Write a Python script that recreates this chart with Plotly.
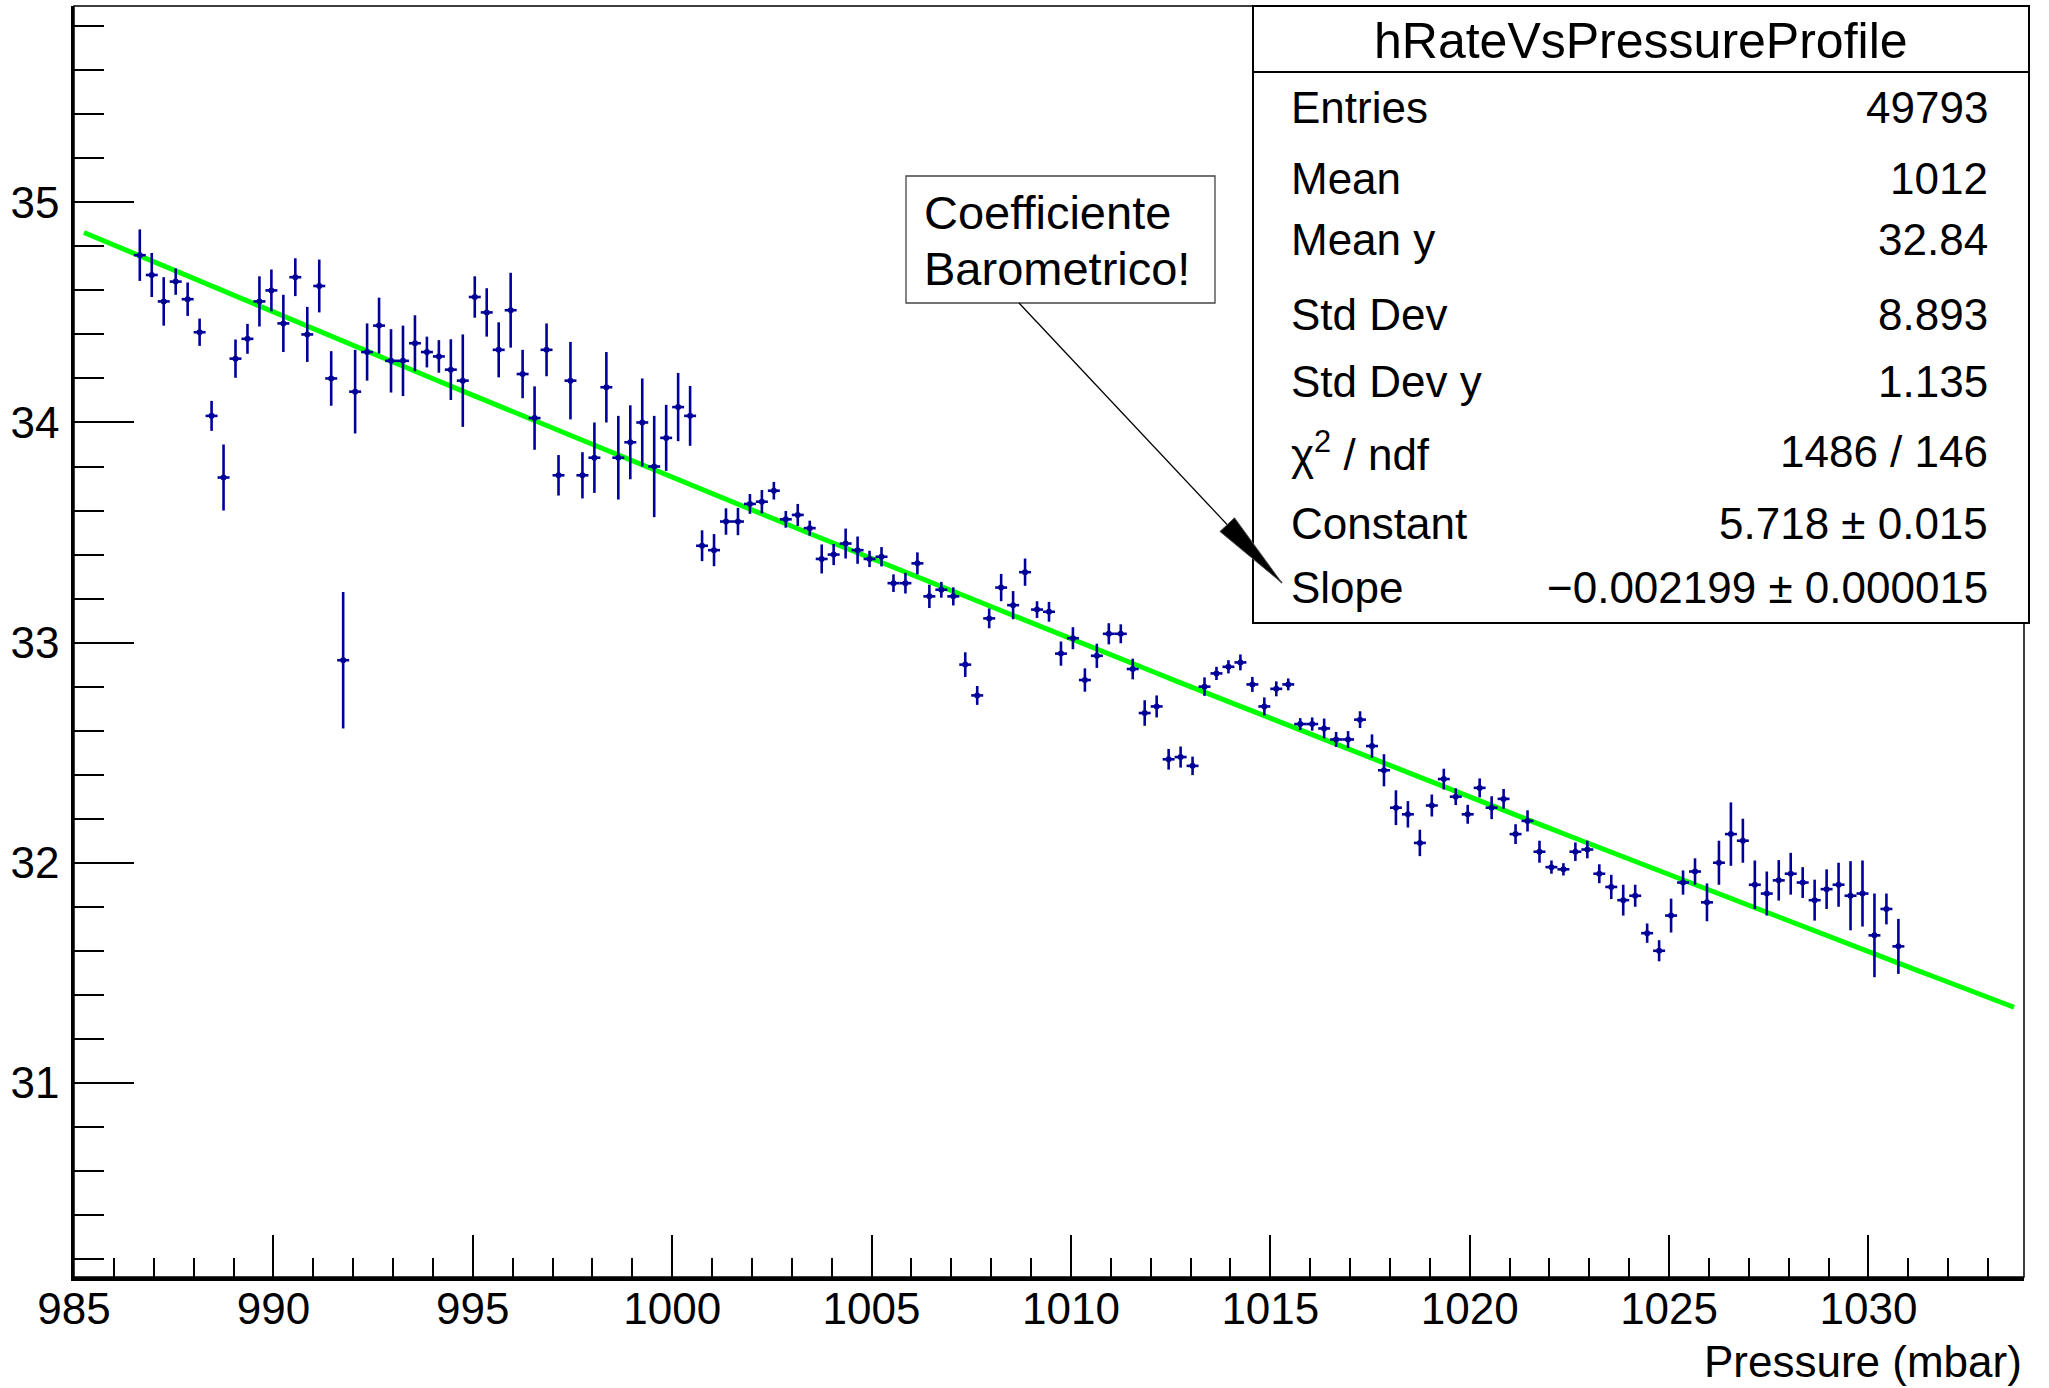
import numpy as np
import plotly.graph_objects as go

# ---------------- data ----------------
pressure = [
    986.65, 986.95, 987.25, 987.55, 987.85, 988.15, 988.45, 988.75, 989.05, 989.35,
    989.65, 989.95, 990.25, 990.55, 990.85, 991.15, 991.45, 991.75, 992.05, 992.35,
    992.65, 992.95, 993.25, 993.55, 993.85, 994.15, 994.45, 994.75, 995.05, 995.35,
    995.65, 995.95, 996.25, 996.55, 996.85, 997.15, 997.45, 997.75, 998.05, 998.35,
    998.65, 998.95, 999.25, 999.55, 999.85, 1000.15, 1000.45, 1000.75, 1001.05, 1001.35,
    1001.65, 1001.95, 1002.25, 1002.55, 1002.85, 1003.15, 1003.45, 1003.75, 1004.05, 1004.35,
    1004.65, 1004.95, 1005.25, 1005.55, 1005.85, 1006.15, 1006.45, 1006.75, 1007.05, 1007.35,
    1007.65, 1007.95, 1008.25, 1008.55, 1008.85, 1009.15, 1009.45, 1009.75, 1010.05, 1010.35,
    1010.65, 1010.95, 1011.25, 1011.55, 1011.85, 1012.15, 1012.45, 1012.75, 1013.05, 1013.35,
    1013.65, 1013.95, 1014.25, 1014.55, 1014.85, 1015.15, 1015.45, 1015.75, 1016.05, 1016.35,
    1016.65, 1016.95, 1017.25, 1017.55, 1017.85, 1018.15, 1018.45, 1018.75, 1019.05, 1019.35,
    1019.65, 1019.95, 1020.25, 1020.55, 1020.85, 1021.15, 1021.45, 1021.75, 1022.05, 1022.35,
    1022.65, 1022.95, 1023.25, 1023.55, 1023.85, 1024.15, 1024.45, 1024.75, 1025.05, 1025.35,
    1025.65, 1025.95, 1026.25, 1026.55, 1026.85, 1027.15, 1027.45, 1027.75, 1028.05, 1028.35,
    1028.65, 1028.95, 1029.25, 1029.55, 1029.85, 1030.15, 1030.45, 1030.75,
]

rate = [
    34.76, 34.67, 34.55, 34.64, 34.56, 34.41, 34.03, 33.75, 34.29, 34.38,
    34.55, 34.60, 34.45, 34.66, 34.40, 34.62, 34.20, 32.92, 34.14, 34.32,
    34.44, 34.28, 34.28, 34.36, 34.32, 34.30, 34.24, 34.19, 34.57, 34.50,
    34.33, 34.51, 34.22, 34.02, 34.33, 33.76, 34.19, 33.76, 33.84, 34.16,
    33.84, 33.91, 34.00, 33.80, 33.93, 34.07, 34.03, 33.44, 33.42, 33.55,
    33.55, 33.63, 33.64, 33.69, 33.56, 33.58, 33.52, 33.38, 33.40, 33.45,
    33.42, 33.38, 33.39, 33.27, 33.27, 33.36, 33.21, 33.24, 33.21, 32.90,
    32.76, 33.11, 33.25, 33.17, 33.32, 33.15, 33.14, 32.95, 33.02, 32.83,
    32.94, 33.04, 33.04, 32.88, 32.68, 32.71, 32.47, 32.48, 32.44, 32.80,
    32.86, 32.89, 32.91, 32.81, 32.71, 32.79, 32.81, 32.63, 32.63, 32.61,
    32.56, 32.56, 32.65, 32.53, 32.42, 32.25, 32.22, 32.09, 32.26, 32.38,
    32.30, 32.22, 32.34, 32.25, 32.29, 32.13, 32.19, 32.05, 31.98, 31.97,
    32.05, 32.06, 31.95, 31.89, 31.83, 31.85, 31.68, 31.60, 31.76, 31.91,
    31.96, 31.82, 32.00, 32.13, 32.10, 31.90, 31.86, 31.92, 31.95, 31.91,
    31.83, 31.88, 31.90, 31.85, 31.86, 31.67, 31.79, 31.62,
]

rate_err = [
    0.117, 0.100, 0.110, 0.060, 0.076, 0.062, 0.068, 0.150, 0.087, 0.068,
    0.114, 0.095, 0.130, 0.086, 0.125, 0.120, 0.124, 0.310, 0.190, 0.130,
    0.127, 0.144, 0.160, 0.127, 0.070, 0.074, 0.138, 0.210, 0.094, 0.110,
    0.125, 0.170, 0.110, 0.144, 0.120, 0.092, 0.176, 0.105, 0.160, 0.160,
    0.190, 0.168, 0.200, 0.230, 0.150, 0.155, 0.136, 0.070, 0.073, 0.060,
    0.062, 0.045, 0.053, 0.040, 0.038, 0.050, 0.034, 0.066, 0.048, 0.068,
    0.062, 0.037, 0.044, 0.040, 0.047, 0.050, 0.053, 0.036, 0.041, 0.056,
    0.043, 0.045, 0.062, 0.064, 0.062, 0.038, 0.045, 0.055, 0.050, 0.053,
    0.055, 0.048, 0.043, 0.047, 0.058, 0.050, 0.047, 0.048, 0.042, 0.042,
    0.030, 0.030, 0.036, 0.034, 0.041, 0.034, 0.027, 0.027, 0.030, 0.045,
    0.034, 0.038, 0.038, 0.053, 0.073, 0.079, 0.060, 0.060, 0.050, 0.047,
    0.038, 0.043, 0.043, 0.052, 0.045, 0.045, 0.048, 0.050, 0.030, 0.028,
    0.042, 0.040, 0.043, 0.055, 0.070, 0.050, 0.044, 0.048, 0.077, 0.055,
    0.060, 0.086, 0.100, 0.144, 0.100, 0.110, 0.100, 0.092, 0.095, 0.070,
    0.093, 0.090, 0.100, 0.157, 0.150, 0.190, 0.070, 0.125,
]

bin_half_width = 0.15

# exponential fit: exp(Constant + Slope * x)
fit_constant = 5.718
fit_slope = -0.002199
fit_range = [985.25, 1033.65]

stats_title = "hRateVsPressureProfile"
stats_labels = ["Entries", "Mean", "Mean y", "Std Dev", "Std Dev y",
                "χ<sup>2</sup> / ndf", "Constant", "Slope"]
stats_values = ["49793", "1012", "32.84", "8.893", "1.135",
                "1486 / 146", "5.718 ± 0.015", "−0.002199 ± 0.000015"]

note_lines = ["Coefficiente", "Barometrico!"]
x_title = "Pressure (mbar)"

x_range = [985, 1033.9]
y_range = [30.118, 35.892]

# ---------------- layout helpers ----------------
W, H = 2049, 1388
ML, MR, MT, MB = 74, 25, 6, 111
PW = W - ML - MR
PH = H - MT - MB


def px_x(X):
    return (X - ML) / PW


def px_y(Y):
    return (H - MB - Y) / PH


FONT = "Liberation Sans, Arial, Helvetica, sans-serif"

fig = go.Figure()

# fit function
x_fit = np.linspace(fit_range[0], fit_range[1], 100)
y_fit = np.exp(fit_constant + fit_slope * x_fit)
fig.add_trace(go.Scatter(
    x=x_fit, y=y_fit, mode="lines",
    line=dict(color="#00ff00", width=5),
    hoverinfo="skip",
))

# profile points (crosses)
fig.add_trace(go.Scatter(
    x=pressure, y=rate, mode="markers",
    marker=dict(size=0, color="#000099"),
    error_y=dict(type="data", array=rate_err, visible=True,
                 color="#000099", thickness=2.6, width=0),
    error_x=dict(type="data", array=[bin_half_width] * len(pressure), visible=True,
                 color="#000099", thickness=2.6, width=0),
))

shapes = []
annotations = []

# plot frame
shapes.append(dict(type="rect", xref="paper", yref="paper", x0=0, x1=1, y0=0, y1=1,
                   line=dict(color="black", width=1.5), layer="above"))

# stats box
sb_l, sb_r, sb_t, sb_b, sb_sep = 1253, 2029, 6, 623, 72
shapes.append(dict(type="rect", xref="paper", yref="paper",
                   x0=px_x(sb_l), x1=px_x(sb_r), y0=px_y(sb_b), y1=px_y(sb_t),
                   line=dict(color="black", width=2), fillcolor="white", layer="above"))
shapes.append(dict(type="line", xref="paper", yref="paper",
                   x0=px_x(sb_l), x1=px_x(sb_r), y0=px_y(sb_sep), y1=px_y(sb_sep),
                   line=dict(color="black", width=2), layer="above"))

annotations.append(dict(text=stats_title, xref="paper", yref="paper",
                        x=px_x((sb_l + sb_r) / 2), y=px_y(41), xanchor="center", yanchor="middle",
                        showarrow=False, font=dict(family=FONT, size=50, color="black")))
row_y = [107, 178, 240, 314, 382, 451, 523, 587]
for lab, val, ry in zip(stats_labels, stats_values, row_y):
    annotations.append(dict(text=lab, xref="paper", yref="paper", x=px_x(1289), y=px_y(ry),
                            xanchor="left", yanchor="middle", showarrow=False,
                            font=dict(family=FONT, size=44, color="black")))
    annotations.append(dict(text=val, xref="paper", yref="paper", x=px_x(1990), y=px_y(ry),
                            xanchor="right", yanchor="middle", showarrow=False,
                            font=dict(family=FONT, size=44, color="black")))

# note box
nb_l, nb_r, nb_t, nb_b = 906, 1215, 176, 303
shapes.append(dict(type="rect", xref="paper", yref="paper",
                   x0=px_x(nb_l), x1=px_x(nb_r), y0=px_y(nb_b), y1=px_y(nb_t),
                   line=dict(color="#444444", width=1.3), fillcolor="white", layer="above"))
for line_txt, ly in zip(note_lines, [213, 268]):
    annotations.append(dict(text=line_txt, xref="paper", yref="paper", x=px_x(922), y=px_y(ly),
                            xanchor="left", yanchor="middle", showarrow=False,
                            font=dict(family=FONT, size=47, color="black")))

# arrow from note box to the slope row
tip = (1282, 583)
tail = (1019, 303)
shapes.append(dict(type="line", xref="paper", yref="paper",
                   x0=px_x(tail[0]), y0=px_y(tail[1]), x1=px_x(tip[0]), y1=px_y(tip[1]),
                   line=dict(color="black", width=1.3), layer="above"))
vx, vy = tip[0] - tail[0], -(tip[1] - tail[1])
L = np.hypot(vx, vy)
ux, uy = vx / L, vy / L
head_len, head_half = 80, 10
bx, by = -head_len * ux, -head_len * uy
nx, ny = -uy, ux
p1 = (bx + head_half * nx, by + head_half * ny)
p2 = (bx - head_half * nx, by - head_half * ny)
shapes.append(dict(type="path", xref="paper", yref="paper",
                   xsizemode="pixel", ysizemode="pixel",
                   xanchor=px_x(tip[0]), yanchor=px_y(tip[1]),
                   path=f"M 0,0 L {p1[0]:.1f},{p1[1]:.1f} L {p2[0]:.1f},{p2[1]:.1f} Z",
                   fillcolor="black", line=dict(color="#555555", width=1), layer="above"))

# x-axis title
annotations.append(dict(text=x_title, xref="paper", yref="paper", x=1.0, y=px_y(1361),
                        xanchor="right", yanchor="middle", showarrow=False,
                        font=dict(family=FONT, size=44, color="black")))

fig.update_layout(
    template="none",
    width=W, height=H, autosize=False,
    margin=dict(l=ML, r=MR, t=MT, b=MB, pad=0),
    paper_bgcolor="white", plot_bgcolor="white",
    showlegend=False,
    font=dict(family=FONT, color="black"),
    shapes=shapes, annotations=annotations,
    xaxis=dict(
        automargin=False,
        range=x_range, showgrid=False, zeroline=False,
        showline=True, linecolor="black", linewidth=3.5,
        ticks="inside", ticklen=42, tickwidth=1.5, tickcolor="black",
        tick0=985, dtick=5,
        minor=dict(ticks="inside", dtick=1, ticklen=19, tickwidth=1.5, tickcolor="black",
                   showgrid=False),
        tickfont=dict(family=FONT, size=44, color="black"),
        ticklabelstandoff=-10,
    ),
    yaxis=dict(
        automargin=False,
        range=y_range, showgrid=False, zeroline=False,
        showline=True, linecolor="black", linewidth=2.5,
        ticks="inside", ticklen=60, tickwidth=2, tickcolor="black",
        tick0=30, dtick=1,
        minor=dict(ticks="inside", dtick=0.2, ticklen=30, tickwidth=2, tickcolor="black",
                   showgrid=False),
        tickfont=dict(family=FONT, size=44, color="black"),
        ticklabelstandoff=3,
    ),
)

fig.write_html("out.html")
